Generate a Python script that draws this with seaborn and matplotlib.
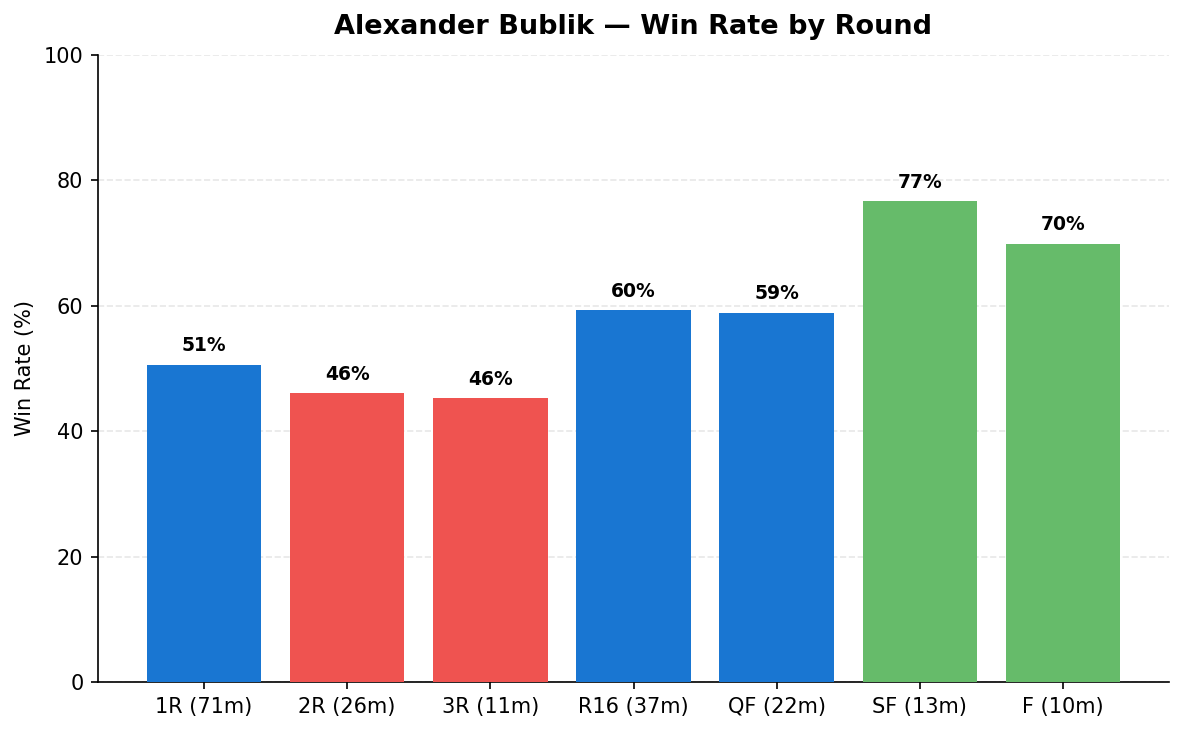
import matplotlib
matplotlib.use("Agg")
import matplotlib.pyplot as plt
import seaborn as sns

rounds = ["1R (71m)", "2R (26m)", "3R (11m)", "R16 (37m)", "QF (22m)", "SF (13m)", "F (10m)"]
win_rate = [50.6, 46.1, 45.3, 59.3, 58.9, 76.7, 69.9]
labels = ["51%", "46%", "46%", "60%", "59%", "77%", "70%"]
colors = ["#1976D2", "#EF5350", "#EF5350", "#1976D2", "#1976D2", "#66BB6A", "#66BB6A"]

plt.rcParams["font.family"] = ["DejaVu Sans"]

fig, ax = plt.subplots(figsize=(1184 / 150, 732 / 150), dpi=150)
sns.barplot(x=rounds, y=win_rate, hue=rounds, palette=colors, legend=False,
            width=0.8, saturation=1, linewidth=0, ax=ax, zorder=3)

for i, (v, lab) in enumerate(zip(win_rate, labels)):
    ax.text(i, v + 1.5, lab, ha="center", va="bottom", fontsize=9, fontweight="bold")

ax.set_xlim(-0.74, 6.74)
ax.set_ylim(0, 100)
ax.set_yticks(range(0, 101, 20))
ax.set_ylabel("Win Rate (%)", fontsize=10)
ax.set_xlabel("")
ax.set_title("Alexander Bublik — Win Rate by Round", fontsize=13, fontweight="bold", pad=10)
ax.tick_params(axis="both", labelsize=10)
ax.yaxis.grid(True, linestyle="--", alpha=0.3, zorder=0)
ax.set_axisbelow(True)
sns.despine(ax=ax)

fig.subplots_adjust(left=98 / 1184, right=1169 / 1184, top=1 - 55 / 732, bottom=1 - 682 / 732)
fig.savefig("out.png", dpi=150)
